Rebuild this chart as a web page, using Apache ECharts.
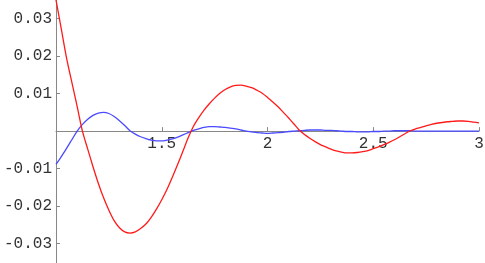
<!DOCTYPE html>
<html>
<head>
<meta charset="utf-8">
<script src="https://cdn.jsdelivr.net/npm/echarts@6/dist/echarts.min.js"></script>
<style>
html,body{margin:0;padding:0;background:#fff;}
#chart{width:485px;height:263px;}
</style>
</head>
<body>
<div id="chart"></div>
<script>
var xValues = [1.000,1.025,1.050,1.075,1.100,1.125,1.150,1.175,1.200,1.225,1.250,1.275,1.300,1.325,1.350,1.375,1.400,1.425,1.450,1.475,1.500,1.525,1.550,1.575,1.600,1.625,1.650,1.675,1.700,1.725,1.750,1.775,1.800,1.825,1.850,1.875,1.900,1.925,1.950,1.975,2.000,2.025,2.050,2.075,2.100,2.125,2.150,2.175,2.200,2.225,2.250,2.275,2.300,2.325,2.350,2.375,2.400,2.425,2.450,2.475,2.500,2.525,2.550,2.575,2.600,2.625,2.650,2.675,2.700,2.725,2.750,2.775,2.800,2.825,2.850,2.875,2.900,2.925,2.950,2.975,3.000];
var redValues = [0.0350,0.0273,0.0195,0.0130,0.0066,0.0000,-0.0048,-0.0095,-0.0139,-0.0178,-0.0211,-0.0239,-0.0258,-0.0269,-0.0272,-0.0269,-0.0260,-0.0248,-0.0230,-0.0208,-0.0183,-0.0155,-0.0123,-0.0089,-0.0054,-0.0018,0.0013,0.0036,0.0056,0.0073,0.0088,0.0101,0.0111,0.0118,0.0122,0.0123,0.0120,0.0116,0.0109,0.0101,0.0090,0.0078,0.0065,0.0050,0.0035,0.0019,0.0003,-0.0009,-0.0019,-0.0028,-0.0036,-0.0042,-0.0048,-0.0053,-0.0056,-0.0058,-0.0058,-0.0057,-0.0055,-0.0052,-0.0047,-0.0042,-0.0036,-0.0030,-0.0023,-0.0015,-0.0007,0.0001,0.0006,0.0010,0.0014,0.0018,0.0021,0.0023,0.0025,0.0026,0.0027,0.0027,0.0026,0.0024,0.0022];
var blueValues = [-0.0089,-0.0068,-0.0046,-0.0023,0.0000,0.0018,0.0032,0.0042,0.0048,0.0050,0.0047,0.0039,0.0028,0.0015,0.0001,-0.0008,-0.0015,-0.0020,-0.0024,-0.0026,-0.0026,-0.0024,-0.0021,-0.0016,-0.0010,-0.0004,0.0002,0.0006,0.0010,0.0012,0.0012,0.0011,0.0010,0.0008,0.0006,0.0003,0.0000,-0.0002,-0.0004,-0.0005,-0.0006,-0.0005,-0.0004,-0.0003,-0.0001,0.0000,0.0001,0.0002,0.0003,0.0003,0.0003,0.0002,0.0002,0.0001,0.0000,-0.0001,-0.0001,-0.0002,-0.0002,-0.0002,-0.0001,-0.0001,0.0000,0.0000,0.0001,0.0001,0.0001,0.0001,0.0000,0.0000,0.0000,0.0000,0.0000,0.0000,0.0000,0.0000,0.0000,0.0000,0.0000,0.0000,0.0000];
var xTicks = [1.5, 2, 2.5, 3];
var xTickLabels = ["1.5", "2", "2.5", "3"];
var yTicks = [-0.03, -0.02, -0.01, 0.01, 0.02, 0.03];
var yTickLabels = ["-0.03", "-0.02", "-0.01", "0.01", "0.02", "0.03"];

function pairs(ys) {
  return xValues.map(function (x, i) { return [x, ys[i]]; });
}
function labelFor(vals, labels) {
  return function (v) {
    for (var i = 0; i < vals.length; i++) {
      if (Math.abs(vals[i] - v) < 1e-9) return labels[i];
    }
    return '';
  };
}

var chart = echarts.init(document.getElementById('chart'), null, {renderer: 'canvas'});
var axisGray = '#888888';
var font = '"Liberation Mono", "DejaVu Sans Mono", monospace';
chart.setOption({
  animation: false,
  backgroundColor: '#ffffff',
  grid: {left: 56, right: 6, top: 0, bottom: 0, containLabel: false, outerBoundsMode: 'none'},
  xAxis: {
    type: 'value', min: 1, max: 3, position: 'bottom', offset: 0,
    axisLine: {show: true, onZero: false, lineStyle: {color: axisGray, width: 1}},
    axisTick: {show: true, inside: true, length: 4, customValues: xTicks, lineStyle: {color: axisGray}},
    axisLabel: {show: true, customValues: xTicks, margin: 5, fontFamily: font, fontSize: 16, color: '#333333',
      formatter: labelFor(xTicks, xTickLabels)},
    splitLine: {show: false}
  },
  yAxis: {
    type: 'value', min: -0.0352, max: 0.035,
    axisLine: {show: true, onZero: false, lineStyle: {color: axisGray, width: 1}},
    axisTick: {show: true, inside: true, length: 4, customValues: yTicks, lineStyle: {color: axisGray}},
    axisLabel: {show: true, customValues: yTicks, margin: 4, fontFamily: font, fontSize: 16, color: '#333333',
      formatter: labelFor(yTicks, yTickLabels)},
    splitLine: {show: false}
  },
  series: [
    {type: 'line', name: 'blue', data: pairs(blueValues), showSymbol: false, smooth: 0.3,
      lineStyle: {color: '#4a4aff', width: 1.3}, z: 3},
    {type: 'line', name: 'red', data: pairs(redValues), showSymbol: false, smooth: 0.3,
      lineStyle: {color: '#ff1a1a', width: 1.3}, z: 4}
  ]
});
// place the x axis on the zero line, using the library's own y scale
var zeroY = chart.convertToPixel({yAxisIndex: 0}, 0);
var bottomY = chart.getHeight();
chart.setOption({xAxis: {offset: -(bottomY - zeroY)}});
</script>
</body>
</html>
